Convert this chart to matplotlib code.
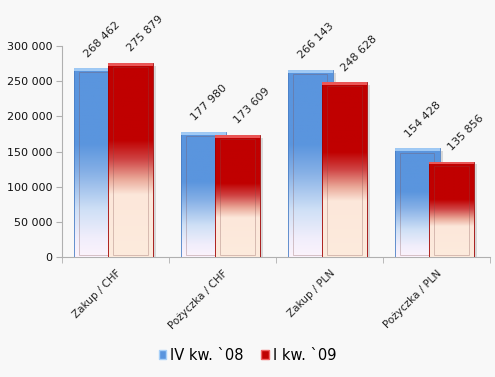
import numpy as np
import matplotlib
matplotlib.use('Agg')
import matplotlib.pyplot as plt
from matplotlib.colors import LinearSegmentedColormap
from matplotlib.patches import Rectangle, Patch

# Chart data
categories = ['Zakup / CHF', 'Pożyczka / CHF', 'Zakup / PLN', 'Pożyczka / PLN']
series_names = ['IV kw. `08', 'I kw. `09']
q4_08 = [268462, 177980, 266143, 154428]
q1_09 = [275879, 173609, 248628, 135856]
yticks = [0, 50000, 100000, 150000, 200000, 250000, 300000]

def fmt(v):
    return f'{v:,}'.replace(',', ' ')

# Gradients (top -> bottom)
blue_cmap = LinearSegmentedColormap.from_list('b', [
    (0.0, '#5a95de'), (0.40, '#5a95de'), (0.55, '#86b0e6'),
    (0.75, '#cfe0f6'), (0.90, '#f1eefb'), (1.0, '#fcf3fc')])
red_cmap = LinearSegmentedColormap.from_list('r', [
    (0.0, '#c00000'), (0.40, '#c00000'), (0.50, '#cf4444'),
    (0.60, '#eaa898'), (0.68, '#fce7da'), (1.0, '#fdebdd')])

fig = plt.figure(figsize=(4.95, 3.77), dpi=100)
fig.patch.set_facecolor('#f8f8f8')
ax = fig.add_axes([0.125, 0.318, 0.865, 0.56])
ax.set_facecolor('#f8f8f8')

x = np.arange(len(categories))
width = 0.42
offsets = [-0.18, 0.14]
label_dx = [-0.06, 0.02]
series = [q4_08, q1_09]
cmaps = [blue_cmap, red_cmap]
edges = ['#4a7fc6', '#a00000']
tops = ['#a8d0f8', '#f06060']
grad = np.linspace(0, 1, 256).reshape(-1, 1)

ax.set_xlim(-0.5, len(categories) - 0.5)
ax.set_ylim(0, 300000)

for s, vals in enumerate(series):
    for i, v in enumerate(vals):
        x0 = x[i] + offsets[s] - width / 2
        # shadow
        ax.add_patch(Rectangle((x0 + 0.03, 0), width, v - 4000, facecolor='#d8d8d8',
                               edgecolor='none', zorder=2 + s * 3))
        im = ax.imshow(grad, cmap=cmaps[s], aspect='auto',
                       extent=[x0, x0 + width, 0, v], zorder=3 + s * 3)
        rect = Rectangle((x0, 0), width, v, facecolor='none', edgecolor=edges[s],
                         linewidth=0.6, zorder=4 + s * 3)
        ax.add_patch(rect)
        im.set_clip_path(rect)
        # inner bevel
        ax.add_patch(Rectangle((x0 + 0.05, 3000), width - 0.1, v - 9000,
                               facecolor='none', edgecolor=(0.5, 0.3, 0.3, 0.35),
                               linewidth=0.6, zorder=4 + s * 3))
        ax.add_patch(Rectangle((x0, v - 4000), width, 4000, facecolor=tops[s],
                               edgecolor='none', alpha=0.9, zorder=4 + s * 3))
        ax.text(x[i] + offsets[s] + label_dx[s], v + 13000, fmt(v), rotation=45,
                rotation_mode='anchor', ha='left', va='bottom',
                fontsize=8, color='#222222', zorder=10)

ax.set_yticks(yticks)
ax.set_yticklabels([fmt(t) for t in yticks], fontsize=8, color='#111111')
ax.set_xticks(np.arange(-0.5, len(categories)), minor=True)
ax.set_xticks(x)
ax.set_xticklabels(categories, rotation=45, ha='right', rotation_mode='anchor',
                   fontsize=7.5, color='#222222')
ax.tick_params(axis='x', which='major', length=0, pad=8)
ax.tick_params(axis='x', which='minor', length=4, color='#b0b0b0')
ax.tick_params(axis='y', length=4, color='#b0b0b0', pad=3)
for side in ['top', 'right']:
    ax.spines[side].set_visible(False)
ax.spines['left'].set_color('#b0b0b0')
ax.spines['bottom'].set_color('#b0b0b0')

handles = [Patch(facecolor='#5a95de', edgecolor='#a8d0f8', label=series_names[0]),
           Patch(facecolor='#c00000', edgecolor='#f06060', label=series_names[1])]
fig.legend(handles=handles, loc='center', bbox_to_anchor=(0.5, 0.058), ncol=2,
           frameon=False, fontsize=10.5, handlelength=0.5, handleheight=0.5,
           handletextpad=0.3, columnspacing=1.2)

fig.savefig('out.png', dpi=100, facecolor=fig.get_facecolor())
